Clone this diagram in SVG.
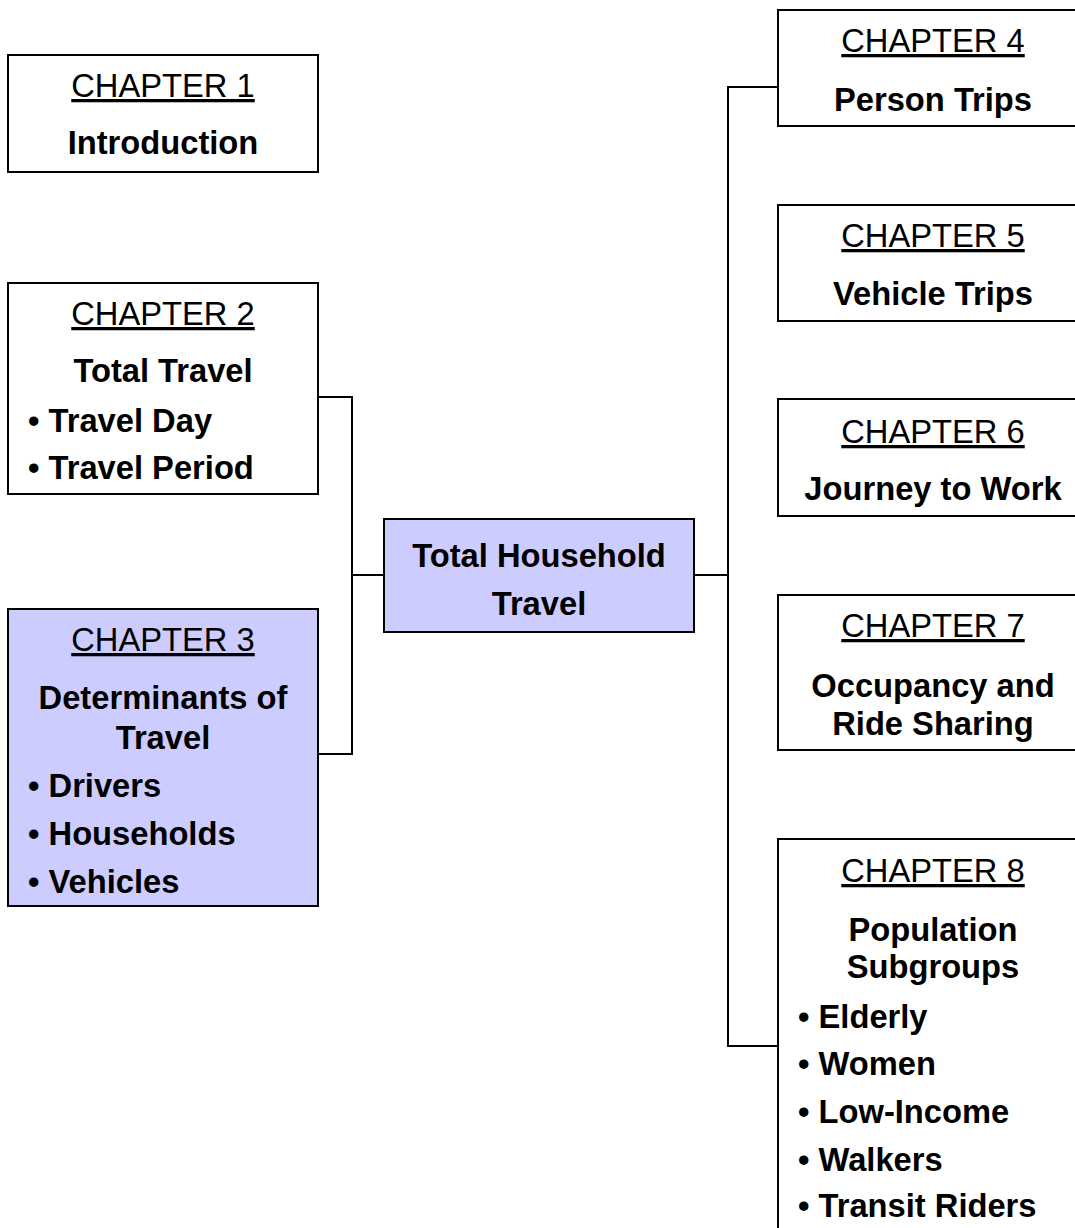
<svg xmlns="http://www.w3.org/2000/svg" width="1075" height="1228" viewBox="0 0 1075 1228">
<style>
  .box { fill: #ffffff; stroke: #000000; stroke-width: 2; }
  .hl { fill: #ccccff; stroke: #000000; stroke-width: 2; }
  .conn { fill: none; stroke: #000000; stroke-width: 2; }
  text { font-family: "Liberation Sans", Arial, sans-serif; font-size: 32.7px; fill: #000000; }
  .ch { text-anchor: middle; text-decoration: underline; }
  .t { text-anchor: middle; font-weight: bold; }
  .b { font-weight: bold; }
</style>
<rect width="1075" height="1228" fill="#ffffff"/>
<g id="connectors">
  <polyline class="conn" points="318,397 352,397 352,754 318,754"/>
  <line class="conn" x1="352" y1="575" x2="384" y2="575"/>
  <line class="conn" x1="694" y1="575" x2="728" y2="575"/>
  <polyline class="conn" points="778,87 728,87 728,1046 778,1046"/>
</g>
<g id="ch1">
  <rect class="box" x="8" y="55" width="310" height="117"/>
  <text class="ch" x="163" y="97">CHAPTER 1</text>
  <text class="t" x="163" y="154">Introduction</text>
</g>
<g id="ch2">
  <rect class="box" x="8" y="283" width="310" height="211"/>
  <text class="ch" x="163" y="325">CHAPTER 2</text>
  <text class="t" x="163" y="382">Total Travel</text>
  <text class="b" x="28" y="432">• Travel Day</text>
  <text class="b" x="28" y="479">• Travel Period</text>
</g>
<g id="ch3">
  <rect class="hl" x="8" y="609" width="310" height="297"/>
  <text class="ch" x="163" y="651">CHAPTER 3</text>
  <text class="t" x="163" y="709">Determinants of</text>
  <text class="t" x="163" y="749">Travel</text>
  <text class="b" x="28" y="797">• Drivers</text>
  <text class="b" x="28" y="845">• Households</text>
  <text class="b" x="28" y="893">• Vehicles</text>
</g>
<g id="center">
  <rect class="hl" x="384" y="519" width="310" height="113"/>
  <text class="t" x="539" y="567">Total Household</text>
  <text class="t" x="539" y="615">Travel</text>
</g>
<g id="ch4">
  <rect class="box" x="778" y="10" width="310" height="116"/>
  <text class="ch" x="933" y="52">CHAPTER 4</text>
  <text class="t" x="933" y="111">Person Trips</text>
</g>
<g id="ch5">
  <rect class="box" x="778" y="205" width="310" height="116"/>
  <text class="ch" x="933" y="247">CHAPTER 5</text>
  <text class="t" x="933" y="305">Vehicle Trips</text>
</g>
<g id="ch6">
  <rect class="box" x="778" y="399" width="310" height="117"/>
  <text class="ch" x="933" y="443">CHAPTER 6</text>
  <text class="t" x="933" y="500">Journey to Work</text>
</g>
<g id="ch7">
  <rect class="box" x="778" y="595" width="310" height="155"/>
  <text class="ch" x="933" y="637">CHAPTER 7</text>
  <text class="t" x="933" y="697">Occupancy and</text>
  <text class="t" x="933" y="735">Ride Sharing</text>
</g>
<g id="ch8">
  <rect class="box" x="778" y="839" width="310" height="420"/>
  <text class="ch" x="933" y="882">CHAPTER 8</text>
  <text class="t" x="933" y="941">Population</text>
  <text class="t" x="933" y="978">Subgroups</text>
  <text class="b" x="798" y="1028">• Elderly</text>
  <text class="b" x="798" y="1075">• Women</text>
  <text class="b" x="798" y="1123">• Low-Income</text>
  <text class="b" x="798" y="1171">• Walkers</text>
  <text class="b" x="798" y="1217">• Transit Riders</text>
</g>
</svg>
